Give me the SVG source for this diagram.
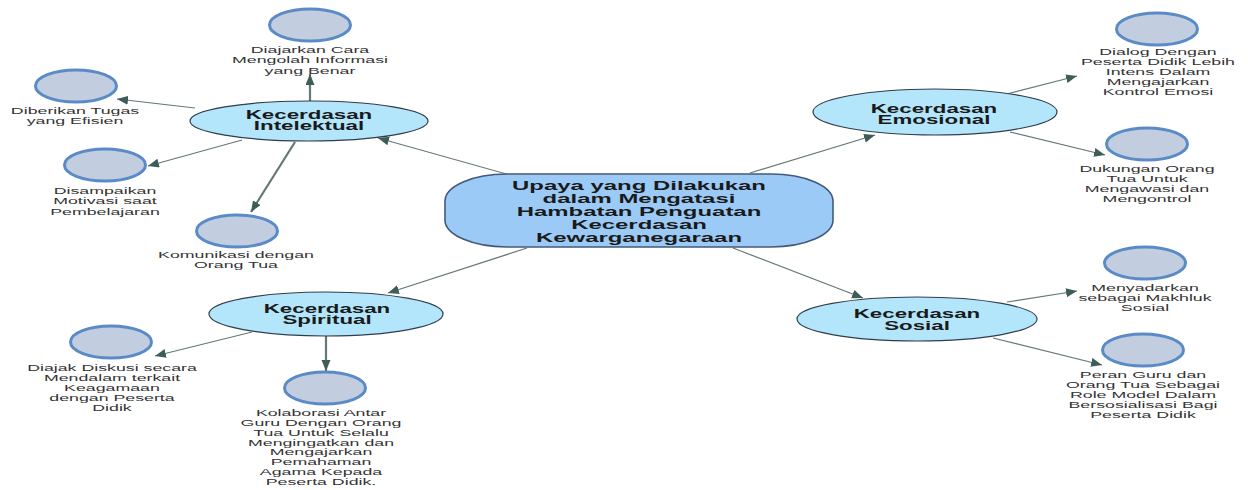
<svg xmlns="http://www.w3.org/2000/svg" width="1248" height="490" viewBox="0 0 1248 490">
<defs>
<marker id="ah" markerUnits="userSpaceOnUse" markerWidth="12" markerHeight="10" refX="11" refY="4.5" orient="auto">
<path d="M0,0 L11,4.5 L0,9 z" fill="#3e5c58"/>
</marker>
<style>
.leaf{fill:#c2cee0;stroke:#5a8bc6;stroke-width:3}
.cat{fill:#b3e6fa;stroke:#2f3d4c;stroke-width:1.2}
.core{fill:#9ccaf7;stroke:#44597a;stroke-width:1.6}
.c{stroke:#667777;stroke-width:1.2;fill:none;marker-end:url(#ah)}
.thick{stroke-width:2.2}
.s{font-family:"Liberation Sans",Arial,sans-serif;font-size:9.5px;fill:#333;text-anchor:middle}
.b{font-family:"Liberation Sans",Arial,sans-serif;font-size:12px;font-weight:bold;fill:#1a1a1a;text-anchor:middle}
.bc{font-family:"Liberation Sans",Arial,sans-serif;font-size:13px;font-weight:bold;fill:#1a1a1a;text-anchor:middle}
</style>
</defs>
<rect width="1248" height="490" fill="#ffffff"/>
<g id="connectors">
<line class="c" x1="510" y1="175" x2="378" y2="138"/>
<line class="c" x1="750" y1="173" x2="875" y2="135"/>
<line class="c" x1="733" y1="248" x2="863" y2="298"/>
<line class="c" x1="527" y1="248" x2="388" y2="293"/>
<line class="c thick" x1="310" y1="101" x2="310" y2="74"/>
<line class="c" x1="195" y1="108" x2="117" y2="99"/>
<line class="c" x1="242" y1="140" x2="148" y2="166"/>
<line class="c thick" x1="295" y1="142" x2="251" y2="212"/>
<line class="c" x1="1003" y1="95" x2="1077" y2="76"/>
<line class="c" x1="1010" y1="132" x2="1105" y2="155"/>
<line class="c" x1="1007" y1="302" x2="1077" y2="291"/>
<line class="c" x1="993" y1="338" x2="1102" y2="365"/>
<line class="c" x1="252" y1="332" x2="155" y2="356"/>
<line class="c thick" x1="326" y1="336" x2="326" y2="371"/>
</g>
<g id="core">
<rect class="core" x="445" y="174" width="388" height="73" rx="62" ry="27"/>
<text class="bc" transform="matrix(1.84 0 0 1 639 0)"><tspan x="0" y="190">Upaya yang Dilakukan</tspan><tspan x="0" y="203">dalam Mengatasi</tspan><tspan x="0" y="216">Hambatan Penguatan</tspan><tspan x="0" y="229">Kecerdasan</tspan><tspan x="0" y="242">Kewarganegaraan</tspan></text>
</g>
<g id="intelektual">
<ellipse class="cat" cx="309" cy="121" rx="119" ry="20"/>
<text class="b" transform="matrix(1.86 0 0 1 309 0)"><tspan x="0" y="119">Kecerdasan</tspan><tspan x="0" y="130.5">Intelektual</tspan></text>
</g>
<g id="emosional">
<ellipse class="cat" cx="935" cy="112" rx="122" ry="23"/>
<text class="b" transform="matrix(1.86 0 0 1 934 0)"><tspan x="0" y="113">Kecerdasan</tspan><tspan x="0" y="124.5">Emosional</tspan></text>
</g>
<g id="sosial">
<ellipse class="cat" cx="917" cy="319" rx="120" ry="22"/>
<text class="b" transform="matrix(1.86 0 0 1 917 0)"><tspan x="0" y="318">Kecerdasan</tspan><tspan x="0" y="330">Sosial</tspan></text>
</g>
<g id="spiritual">
<ellipse class="cat" cx="326" cy="314" rx="117" ry="22"/>
<text class="b" transform="matrix(1.86 0 0 1 327 0)"><tspan x="0" y="313">Kecerdasan</tspan><tspan x="0" y="324.5">Spiritual</tspan></text>
</g>
<g id="diajarkan">
<ellipse class="leaf" cx="310" cy="25" rx="40.5" ry="16"/>
<text class="s" transform="matrix(1.87 0 0 1 310 0)"><tspan x="0" y="53">Diajarkan Cara</tspan><tspan x="0" y="63.5">Mengolah Informasi</tspan><tspan x="0" y="74">yang Benar</tspan></text>
</g>
<g id="diberikan">
<ellipse class="leaf" cx="76" cy="86" rx="40.5" ry="16"/>
<text class="s" transform="matrix(1.87 0 0 1 75 0)"><tspan x="0" y="114.5">Diberikan Tugas</tspan><tspan x="0" y="124.5">yang Efisien</tspan></text>
</g>
<g id="disampaikan">
<ellipse class="leaf" cx="105" cy="165" rx="40.5" ry="16"/>
<text class="s" transform="matrix(1.87 0 0 1 105 0)"><tspan x="0" y="194">Disampaikan</tspan><tspan x="0" y="204.5">Motivasi saat</tspan><tspan x="0" y="215">Pembelajaran</tspan></text>
</g>
<g id="komunikasi">
<ellipse class="leaf" cx="237" cy="231" rx="40.5" ry="16"/>
<text class="s" transform="matrix(1.87 0 0 1 236 0)"><tspan x="0" y="258">Komunikasi dengan</tspan><tspan x="0" y="268.5">Orang Tua</tspan></text>
</g>
<g id="dialog">
<ellipse class="leaf" cx="1157" cy="29" rx="40.5" ry="16"/>
<text class="s" transform="matrix(1.87 0 0 1 1158 0)"><tspan x="0" y="55">Dialog Dengan</tspan><tspan x="0" y="65">Peserta Didik Lebih</tspan><tspan x="0" y="75">Intens Dalam</tspan><tspan x="0" y="85">Mengajarkan</tspan><tspan x="0" y="95">Kontrol Emosi</tspan></text>
</g>
<g id="dukungan">
<ellipse class="leaf" cx="1147" cy="144" rx="40.5" ry="16"/>
<text class="s" transform="matrix(1.87 0 0 1 1147 0)"><tspan x="0" y="172">Dukungan Orang</tspan><tspan x="0" y="182">Tua Untuk</tspan><tspan x="0" y="192">Mengawasi dan</tspan><tspan x="0" y="202">Mengontrol</tspan></text>
</g>
<g id="menyadarkan">
<ellipse class="leaf" cx="1145" cy="263" rx="40.5" ry="16"/>
<text class="s" transform="matrix(1.87 0 0 1 1145 0)"><tspan x="0" y="291.5">Menyadarkan</tspan><tspan x="0" y="301.5">sebagai Makhluk</tspan><tspan x="0" y="311.5">Sosial</tspan></text>
</g>
<g id="peran">
<ellipse class="leaf" cx="1143" cy="350" rx="40.5" ry="16"/>
<text class="s" transform="matrix(1.87 0 0 1 1143 0)"><tspan x="0" y="378.5">Peran Guru dan</tspan><tspan x="0" y="388.5">Orang Tua Sebagai</tspan><tspan x="0" y="398.5">Role Model Dalam</tspan><tspan x="0" y="408.5">Bersosialisasi Bagi</tspan><tspan x="0" y="418.5">Peserta Didik</tspan></text>
</g>
<g id="diajak">
<ellipse class="leaf" cx="111" cy="342" rx="40.5" ry="16"/>
<text class="s" transform="matrix(1.87 0 0 1 112 0)"><tspan x="0" y="371">Diajak Diskusi secara</tspan><tspan x="0" y="381">Mendalam terkait</tspan><tspan x="0" y="391">Keagamaan</tspan><tspan x="0" y="401">dengan Peserta</tspan><tspan x="0" y="411">Didik</tspan></text>
</g>
<g id="kolaborasi">
<ellipse class="leaf" cx="325" cy="388" rx="40.5" ry="16"/>
<text class="s" transform="matrix(1.87 0 0 1 321 0)"><tspan x="0" y="416">Kolaborasi Antar</tspan><tspan x="0" y="425.9">Guru Dengan Orang</tspan><tspan x="0" y="435.7">Tua Untuk Selalu</tspan><tspan x="0" y="445.6">Mengingatkan dan</tspan><tspan x="0" y="455.4">Mengajarkan</tspan><tspan x="0" y="465.3">Pemahaman</tspan><tspan x="0" y="475.1">Agama Kepada</tspan><tspan x="0" y="485">Peserta Didik.</tspan></text>
</g>
</svg>
